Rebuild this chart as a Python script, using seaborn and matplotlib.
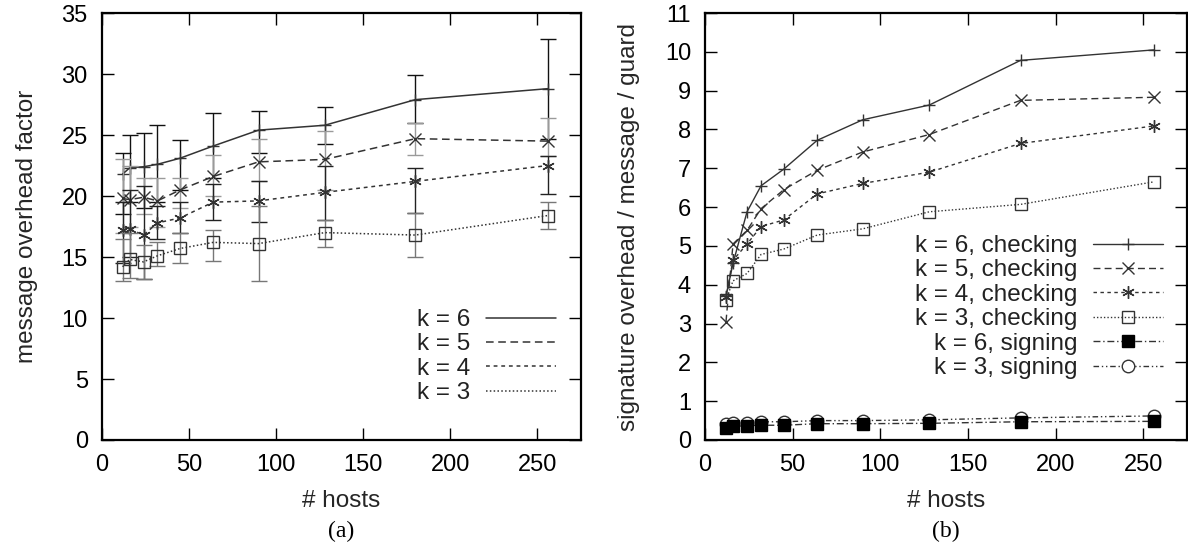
import numpy as np
import pandas as pd
import matplotlib
matplotlib.use("Agg")
import matplotlib.pyplot as plt
import seaborn as sns
from matplotlib.lines import Line2D

sns.set_theme(style="ticks", context="paper")
plt.rcParams.update({
    "font.family": ["Liberation Sans", "DejaVu Sans"],
    "font.size": 17,
    "xtick.direction": "in",
    "ytick.direction": "in",
    "xtick.top": True,
    "ytick.right": True,
    "xtick.major.size": 8.5,
    "ytick.major.size": 8.5,
    "xtick.major.width": 1.0,
    "ytick.major.width": 1.0,
    "xtick.major.pad": 10,
    "ytick.major.pad": 10,
    "xtick.labelsize": 17,
    "ytick.labelsize": 17,
    "axes.linewidth": 1.6,
    "axes.edgecolor": "black",
    "xtick.color": "black",
    "ytick.color": "black",
    "text.color": "#222222",
})

# Datos
hosts = [12, 16, 24, 32, 45, 64, 90, 128, 180, 256]

# (a) factor de sobrecarga de mensajes
k6_msg = [21.8, 22.3, 22.4, 22.6, 23.1, 24.1, 25.4, 25.8, 27.9, 28.8]
k6_msg_lo = [18.5, 19.5, 19.0, 19.5, 20.5, 21.5, 23.5, 24.3, 26.0, 24.7]
k6_msg_hi = [23.5, 25.0, 25.2, 25.8, 24.6, 26.8, 27.0, 27.3, 29.9, 32.9]
k5_msg = [19.8, 19.7, 19.9, 19.6, 20.5, 21.6, 22.8, 23.0, 24.7, 24.5]
k5_msg_lo = [17.0, 17.5, 18.5, 17.5, 19.0, 20.0, 21.2, 20.5, 23.4, 23.3]
k5_msg_hi = [23.0, 22.5, 21.5, 21.5, 21.5, 23.4, 24.7, 25.3, 26.0, 26.4]
k4_msg = [17.2, 17.3, 16.8, 17.8, 18.2, 19.5, 19.6, 20.3, 21.2, 22.5]
k4_msg_lo = [14.5, 15.0, 13.2, 16.5, 17.0, 18.0, 17.9, 18.0, 18.6, 20.2]
k4_msg_hi = [19.5, 20.5, 20.8, 19.2, 19.5, 21.0, 21.2, 22.5, 22.3, 23.3]
k3_msg = [14.2, 14.8, 14.6, 15.1, 15.7, 16.2, 16.1, 17.0, 16.8, 18.4]
k3_msg_lo = [13.0, 13.3, 13.2, 14.3, 14.5, 14.7, 13.0, 15.8, 15.0, 17.3]
k3_msg_hi = [16.5, 17.0, 16.0, 16.2, 17.0, 17.2, 19.2, 18.0, 18.6, 19.5]

# (b) sobrecarga de firmas
k6_check = [3.7, 4.55, 5.88, 6.55, 6.98, 7.72, 8.25, 8.63, 9.78, 10.05]
k5_check = [3.05, 5.05, 5.4, 5.96, 6.45, 6.95, 7.42, 7.87, 8.75, 8.83]
k4_check = [3.69, 4.63, 5.05, 5.5, 5.67, 6.34, 6.61, 6.9, 7.64, 8.09]
k3_check = [3.6, 4.1, 4.29, 4.78, 4.92, 5.28, 5.44, 5.88, 6.07, 6.65]
k6_sign = [0.3, 0.35, 0.37, 0.38, 0.38, 0.42, 0.42, 0.43, 0.47, 0.48]
k3_sign = [0.42, 0.44, 0.45, 0.47, 0.47, 0.5, 0.5, 0.52, 0.57, 0.62]

line_col = "#333333"
leg_fs = 17.5
lab_fs = 17.5

fig = plt.figure(figsize=(11.88, 5.52), dpi=100)
ax1 = fig.add_axes([0.0856, 0.2029, 0.4034, 0.7735])
ax2 = fig.add_axes([0.5934, 0.2029, 0.4058, 0.7735])

# Panel (a)
series_a = [
    ("k = 6", k6_msg, k6_msg_lo, k6_msg_hi, "-", "+", "#111111"),
    ("k = 5", k5_msg, k5_msg_lo, k5_msg_hi, (0, (5, 3)), "x", "#9a9a9a"),
    ("k = 4", k4_msg, k4_msg_lo, k4_msg_hi, (0, (2.5, 2.5)), (6, 2, 0), "#222222"),
    ("k = 3", k3_msg, k3_msg_lo, k3_msg_hi, (0, (1, 1.5)), "s", "#777777"),
]
handles_a = []
for lab, vals, lo, hi, ls, mk, ecol in series_a:
    vals = np.array(vals)
    ax1.errorbar(hosts, vals, yerr=[vals - np.array(lo), np.array(hi) - vals],
                 fmt="none", ecolor=ecol, elinewidth=1.0, capsize=6, capthick=1.0)
    df = pd.DataFrame({"hosts": hosts, "value": vals})
    sns.lineplot(data=df, x="hosts", y="value", ax=ax1, color=line_col,
                 linestyle=ls, linewidth=1.1, marker=mk, markersize=9,
                 markeredgecolor=line_col, markerfacecolor="none",
                 markeredgewidth=1.0, estimator=None, errorbar=None)
    handles_a.append(Line2D([], [], color=line_col, linestyle=ls, linewidth=1.1, label=lab))

ax1.set_xlim(0, 275)
ax1.set_ylim(0, 35)
ax1.set_xticks(range(0, 251, 50))
ax1.set_yticks(range(0, 36, 5))
ax1.set_xlabel("# hosts", fontsize=lab_fs, labelpad=10)
ax1.set_ylabel("message overhead factor", fontsize=lab_fs, labelpad=17)
ax1.legend(handles=handles_a, loc="upper right", frameon=False, markerfirst=False,
           fontsize=leg_fs, handlelength=2.9, handletextpad=0.62, labelspacing=0.1,
           borderpad=0, borderaxespad=0,
           bbox_to_anchor=(556 / 1188, 1 - 309 / 552), bbox_transform=fig.transFigure)

# Panel (b)
series_b = [
    ("k = 6, checking", k6_check, "-", "+", "none"),
    ("k = 5, checking", k5_check, (0, (5, 3)), "x", "none"),
    ("k = 4, checking", k4_check, (0, (2.5, 2.5)), (6, 2, 0), "none"),
    ("k = 3, checking", k3_check, (0, (1, 1.5)), "s", "none"),
    ("k = 3, signing", k3_sign, (0, (4, 2, 1, 2, 1, 2)), "o", "white"),
    ("k = 6, signing", k6_sign, (0, (5, 2, 1, 2)), "s", "black"),
]
handles_b = {}
for lab, vals, ls, mk, fc in series_b:
    df = pd.DataFrame({"hosts": hosts, "value": vals})
    mec = "black" if fc == "black" else line_col
    sns.lineplot(data=df, x="hosts", y="value", ax=ax2, color=line_col,
                 linestyle=ls, linewidth=1.0, marker=mk, markersize=9,
                 markeredgecolor=mec, markerfacecolor=fc,
                 markeredgewidth=1.0, estimator=None, errorbar=None)
    handles_b[lab] = Line2D([], [], color=line_col, linestyle=ls, linewidth=1.0,
                            marker=mk, markersize=9, markeredgecolor=mec,
                            markerfacecolor=fc, markeredgewidth=1.0, label=lab)

order_b = ["k = 6, checking", "k = 5, checking", "k = 4, checking",
           "k = 3, checking", "k = 6, signing", "k = 3, signing"]
ax2.set_xlim(0, 275)
ax2.set_ylim(0, 11)
ax2.set_xticks(range(0, 251, 50))
ax2.set_yticks(range(0, 12, 1))
ax2.set_xlabel("# hosts", fontsize=lab_fs, labelpad=10)
ax2.set_ylabel("signature overhead / message / guard", fontsize=lab_fs, labelpad=18)
ax2.legend(handles=[handles_b[k] for k in order_b], loc="upper right", frameon=False,
           markerfirst=False, fontsize=leg_fs, handlelength=2.9, handletextpad=0.62,
           labelspacing=0.1, borderpad=0, borderaxespad=0,
           bbox_to_anchor=(1163 / 1188, 1 - 235 / 552), bbox_transform=fig.transFigure)

for ax in (ax1, ax2):
    ax.tick_params(which="both", top=True, right=True)
    ax.grid(False)

fig.text(341 / 1188, 1 - 531 / 552, "(a)", ha="center", va="center", fontsize=17,
         family=["Liberation Serif", "DejaVu Serif"], color="black")
fig.text(946 / 1188, 1 - 531 / 552, "(b)", ha="center", va="center", fontsize=17,
         family=["Liberation Serif", "DejaVu Serif"], color="black")

fig.savefig("out.png", dpi=100)
